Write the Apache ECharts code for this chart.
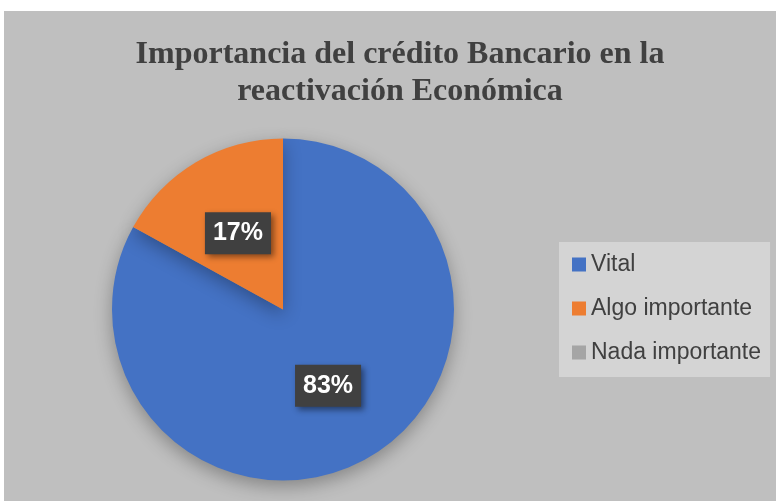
<!DOCTYPE html>
<html>
<head>
<meta charset="utf-8">
<script src="https://cdn.jsdelivr.net/npm/echarts@6/dist/echarts.min.js"></script>
<style>
  html, body { margin: 0; padding: 0; background: #ffffff; }
  #chart { width: 776px; height: 501px; }
</style>
</head>
<body>
<div id="chart"></div>
<script>
// datos del gráfico
const categories = ["Vital", "Algo importante", "Nada importante"];
const values = [83, 17, 0];
const colors = ["#4472c4", "#ed7d31", "#a5a5a5"];

const chart = echarts.init(document.getElementById("chart"));

const option = {
  animation: false,
  backgroundColor: "#ffffff",
  graphic: [
    {
      type: "rect",
      z: -10,
      shape: { x: 4, y: 11, width: 772, height: 490 },
      style: { fill: "#bfbfbf" },
    },
  ],
  title: {
    text: "Importancia del crédito Bancario en la\nreactivación Económica",
    left: 395,
    textAlign: "center",
    top: 31,
    textStyle: {
      fontFamily: "Liberation Serif",
      fontWeight: "bold",
      fontSize: 32,
      lineHeight: 37,
      color: "#404040",
    },
  },
  legend: {
    orient: "vertical",
    left: 559,
    top: 242,
    backgroundColor: "#d4d4d4",
    padding: [11, 9, 13, 13],
    itemWidth: 14,
    itemHeight: 14,
    itemGap: 21,
    icon: "rect",
    data: categories,
    textStyle: {
      fontFamily: "Liberation Sans",
      fontSize: 23,
      lineHeight: 23,
      color: "#404040",
    },
  },
  series: [
    {
      type: "pie",
      center: [283, 309.5],
      radius: 171,
      startAngle: 90,
      clockwise: true,
      label: {
        show: true,
        position: "inside",
        formatter: "{c}%",
        fontFamily: "Liberation Sans",
        fontWeight: "bold",
        fontSize: 25,
        lineHeight: 25,
        color: "#ffffff",
        backgroundColor: "#404040",
        padding: [9, 8, 8, 8],
        shadowBlur: 6,
        shadowColor: "rgba(0,0,0,0.45)",
        shadowOffsetX: 3,
        shadowOffsetY: 3,
      },
      labelLine: { show: false },
      itemStyle: {
        shadowBlur: 18,
        shadowColor: "rgba(0,0,0,0.3)",
        shadowOffsetY: 6,
      },
      emphasis: { disabled: true },
      data: categories.map((name, i) => ({
        name: name,
        value: values[i],
        itemStyle: { color: colors[i] },
        label: values[i] === 0 ? { show: false } : undefined,
      })),
    },
  ],
};

chart.setOption(option);
window.addEventListener("resize", () => chart.resize());
</script>
</body>
</html>
